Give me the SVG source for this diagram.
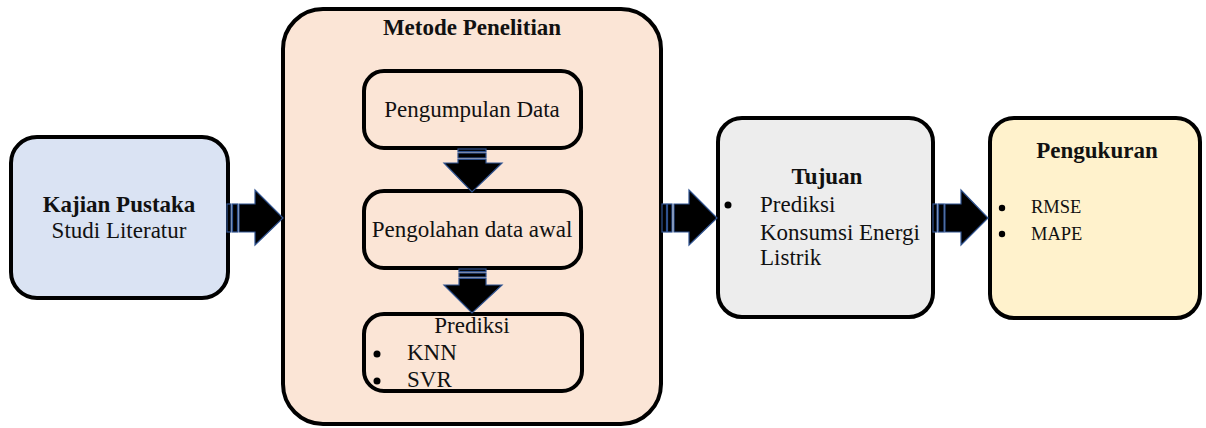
<svg xmlns="http://www.w3.org/2000/svg" width="1206" height="428" viewBox="0 0 1206 428">
<style>
.box{stroke:#000;stroke-width:4}
.t{font-family:"Liberation Serif","Times New Roman","DejaVu Serif",serif;font-size:23px;fill:#111}
.b{font-weight:bold}
.s{font-size:18.5px}
.arr{fill:#000;stroke:#2F528F;stroke-width:1.2}
</style>
<rect width="1206" height="428" fill="#fff"/>
<g id="kajian">
<rect class="box" x="11" y="137" width="217" height="161" rx="26" fill="#DAE3F3"/>
<text class="t b" x="119" y="212" text-anchor="middle">Kajian Pustaka</text>
<text class="t" x="119" y="238" text-anchor="middle">Studi Literatur</text>
</g>
<g id="metode">
<rect class="box" x="283" y="9" width="378" height="415" rx="40" fill="#FBE5D6"/>
<text class="t b" x="472" y="35" text-anchor="middle">Metode Penelitian</text>
</g>
<g id="pengumpulan">
<rect class="box" x="364" y="71" width="217" height="77" rx="20" fill="#FBE5D6"/>
<text class="t" x="472" y="117" text-anchor="middle">Pengumpulan Data</text>
</g>
<g id="pengolahan">
<rect class="box" x="364" y="191" width="217" height="77" rx="20" fill="#FBE5D6"/>
<text class="t" x="472" y="237" text-anchor="middle">Pengolahan data awal</text>
</g>
<g id="prediksi">
<rect class="box" x="364" y="314" width="218" height="77" rx="20" fill="#FBE5D6"/>
<text class="t" x="472" y="333" text-anchor="middle">Prediksi</text>
<circle cx="377" cy="354" r="3.5" fill="#000"/>
<text class="t" x="407" y="360">KNN</text>
<circle cx="377" cy="381" r="3.5" fill="#000"/>
<text class="t" x="407" y="387">SVR</text>
</g>
<g id="tujuan">
<rect class="box" x="718" y="118" width="215" height="199" rx="24" fill="#EDEDED"/>
<text class="t b" x="827" y="184" text-anchor="middle">Tujuan</text>
<circle cx="728" cy="205" r="3.5" fill="#000"/>
<text class="t" x="760" y="212">Prediksi</text>
<text class="t" x="760" y="240">Konsumsi Energi</text>
<text class="t" x="760" y="265">Listrik</text>
</g>
<g id="pengukuran">
<rect class="box" x="990" y="118" width="210" height="200" rx="24" fill="#FFF2CC"/>
<text class="t b" x="1097" y="158" text-anchor="middle">Pengukuran</text>
<circle cx="1002" cy="208" r="3.2" fill="#000"/>
<text class="t s" x="1031" y="213">RMSE</text>
<circle cx="1002" cy="234" r="3.2" fill="#000"/>
<text class="t s" x="1031" y="240">MAPE</text>
</g>
<g id="connectors">
<rect class="arr" x="227" y="204" width="4" height="28"/>
<rect class="arr" x="232.5" y="204" width="5" height="28"/>
<path class="arr" d="M239 204 H255 V190 L283 218 L255 245 V232 H239 Z"/>
<rect class="arr" x="662" y="204" width="4.5" height="28"/>
<rect class="arr" x="667.5" y="204" width="4.5" height="28"/>
<path class="arr" d="M674 204 H689 V190 L717 218 L689 245 V232 H674 Z"/>
<rect class="arr" x="933" y="204" width="4" height="28"/>
<rect class="arr" x="938.5" y="204" width="5.5" height="28"/>
<path class="arr" d="M945 204 H961 V190 L988 218 L961 245 V232 H945 Z"/>
<rect class="arr" x="458" y="149" width="28" height="2.5"/>
<rect class="arr" x="458" y="153" width="28" height="5"/>
<path class="arr" d="M458 159.5 H486 V163 H502 L472 192 L444 163 H458 Z"/>
<rect class="arr" x="459" y="269" width="27" height="2.5"/>
<rect class="arr" x="459" y="273" width="27" height="4"/>
<path class="arr" d="M459 278.5 H486 V285 H502 L472 313 L444 285 H459 Z"/>
</g>
</svg>
